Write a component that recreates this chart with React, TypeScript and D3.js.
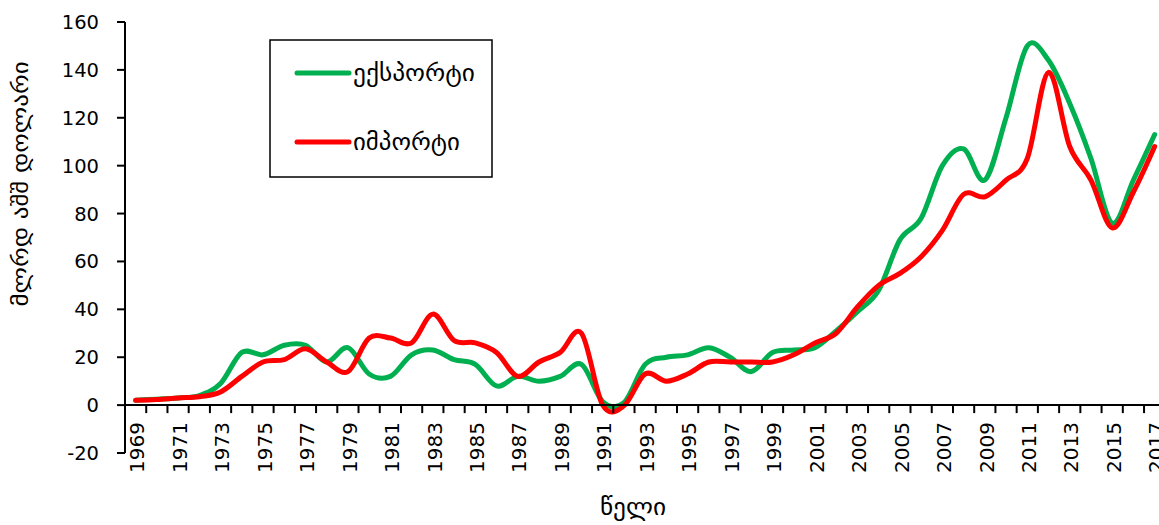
import React from "react";
import * as d3 from "d3";

const years = [
  "1969","1970","1971","1972","1973","1974","1975","1976","1977","1978",
  "1979","1980","1981","1982","1983","1984","1985","1986","1987","1988",
  "1989","1990","1991","1992","1993","1994","1995","1996","1997","1998",
  "1999","2000","2001","2002","2003","2004","2005","2006","2007","2008",
  "2009","2010","2011","2012","2013","2014","2015","2016","2017",
];

const exportsData = [
  2, 2.5, 3, 4, 9, 22, 21, 25, 25, 18,
  24, 13, 12, 21, 23, 19, 17, 8, 12, 10,
  12, 17, 1.5, 1, 17, 20, 21, 24, 20, 14,
  22, 23, 24, 31, 39, 48, 69, 78, 100, 107,
  94, 120, 150, 144, 126, 103, 76, 94, 113,
];

const importsData = [
  2, 2.3, 3, 3.5, 5.5, 12, 18, 19, 23.5, 18,
  14, 28, 28, 26, 38, 27, 26, 22, 12, 18,
  22, 30, 0, -0.3, 13, 10, 13, 18, 18, 18,
  18, 21, 26, 30, 41, 50, 55, 62, 73, 88,
  87, 94, 103, 139, 108, 94, 74, 89, 108,
];

const yTicks = [-20, 0, 20, 40, 60, 80, 100, 120, 140, 160];
const seriesNames = ["ექსპორტი", "იმპორტი"];
const seriesColors = ["#00B050", "#FF0000"];
const legendWidths = [122, 107];
const yTitle = "მლრდ აშშ დოლარი";
const xTitle = "წელი";

const W = 1159;
const H = 525;
const left = 125;
const slot = 21.23;

export default function App() {
  const x = d3
    .scaleBand<string>()
    .domain(years)
    .range([left, left + slot * years.length])
    .padding(0);
  const y = d3.scaleLinear().domain([-20, 160]).range([453, 22]);
  const cx = (yr: string) => (x(yr) as number) + x.bandwidth() / 2;

  const line = d3
    .line<number>()
    .x((_, i) => cx(years[i]))
    .y((v) => y(v))
    .curve(d3.curveCatmullRom.alpha(0));

  const series = [exportsData, importsData];
  const numFont = "'DejaVu Sans', sans-serif";
  const geoFont = "'DejaVu Sans', sans-serif";

  return (
    <svg
      width={W}
      height={H}
      style={{ position: "absolute", left: 0, top: 0, background: "#fff" }}
    >
      <rect x={0} y={0} width={W} height={H} fill="#fff" />
      {series.map((s, i) => (
        <path
          key={i}
          d={line(s) || ""}
          fill="none"
          stroke={seriesColors[i]}
          strokeWidth={5}
          strokeLinejoin="round"
          strokeLinecap="round"
        />
      ))}
      {/* y axis */}
      <line x1={left} x2={left} y1={y(160)} y2={y(-20)} stroke="#000" strokeWidth={2} />
      {yTicks.map((t) => (
        <g key={t}>
          <line x1={left - 8} x2={left} y1={y(t)} y2={y(t)} stroke="#000" strokeWidth={2} />
          <text
            x={left - 26}
            y={y(t)}
            dy="0.36em"
            textAnchor="end"
            fontFamily={numFont}
            fontSize={19.5}
            fill="#000"
          >
            {t}
          </text>
        </g>
      ))}
      {/* x axis */}
      <line x1={left} x2={W} y1={y(0)} y2={y(0)} stroke="#000" strokeWidth={2} />
      {years.map((yr) => (
        <line
          key={"t" + yr}
          x1={(x(yr) as number) + slot}
          x2={(x(yr) as number) + slot}
          y1={y(0)}
          y2={y(0) + 8}
          stroke="#000"
          strokeWidth={2}
        />
      ))}
      {years.map((yr, i) =>
        i % 2 === 0 ? (
          <text
            key={"l" + yr}
            transform={`translate(${cx(yr) + 1.5},${y(0) + 17}) rotate(-90)`}
            textAnchor="end"
            dy="0.36em"
            fontFamily={numFont}
            fontSize={20}
            fill="#000"
          >
            {yr}
          </text>
        ) : null
      )}
      {/* axis titles */}
      <text
        transform={`translate(28,184) rotate(-90)`}
        textAnchor="middle"
        fontFamily={geoFont}
        fontSize={22}
        textLength={245}
        lengthAdjust="spacingAndGlyphs"
        fill="#000"
      >
        {yTitle}
      </text>
      <text
        x={633}
        y={515}
        textAnchor="middle"
        fontFamily={geoFont}
        fontSize={24}
        textLength={66}
        lengthAdjust="spacingAndGlyphs"
        fill="#000"
      >
        {xTitle}
      </text>
      {/* legend */}
      <rect x={270} y={40} width={222} height={137} fill="#fff" stroke="#000" strokeWidth={1.5} />
      {seriesNames.map((n, i) => (
        <g key={n}>
          <line
            x1={297}
            x2={349}
            y1={73 + i * 69}
            y2={73 + i * 69}
            stroke={seriesColors[i]}
            strokeWidth={5}
            strokeLinecap="round"
          />
          <text
            x={353}
            y={73 + i * 69}
            dy="0.35em"
            fontFamily={geoFont}
            fontSize={23}
            textLength={legendWidths[i]}
            lengthAdjust="spacingAndGlyphs"
            fill="#000"
          >
            {n}
          </text>
        </g>
      ))}
    </svg>
  );
}
